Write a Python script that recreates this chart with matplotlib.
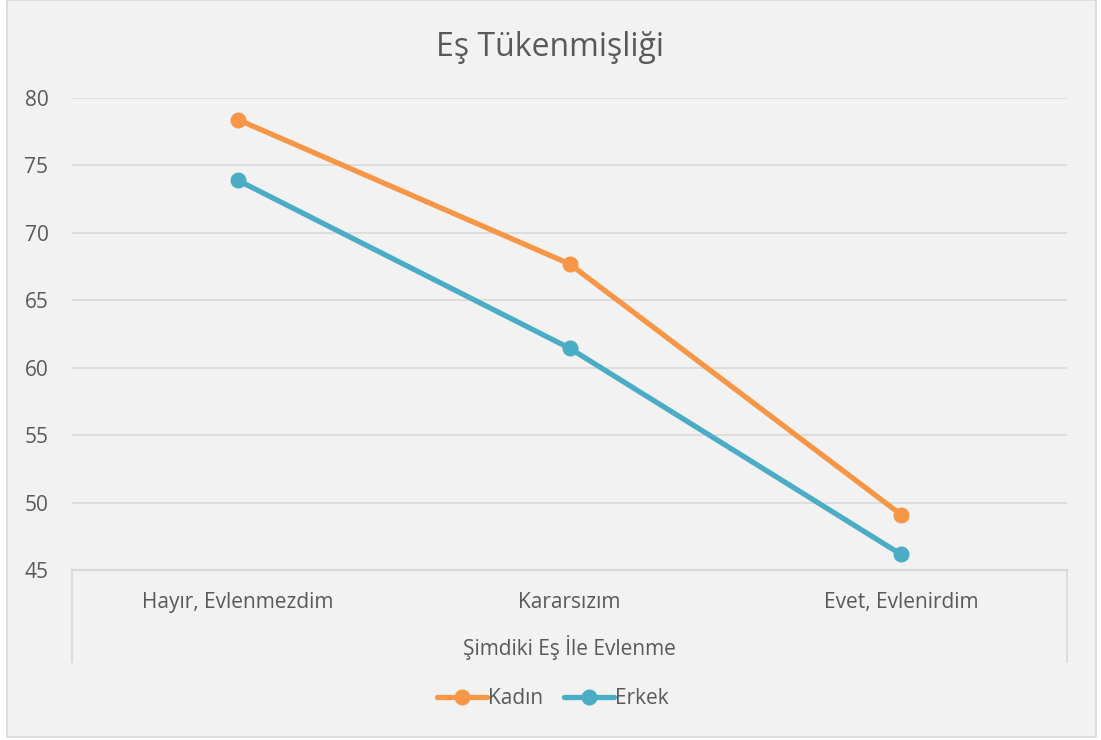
import matplotlib.pyplot as plt
from matplotlib.patches import Rectangle

categories = ["Hayır, Evlenmezdim", "Kararsızım", "Evet, Evlenirdim"]
kadin = [78.4, 67.7, 49.1]
erkek = [73.9, 61.45, 46.15]
yticks = [45, 50, 55, 60, 65, 70, 75, 80]

plt.rcParams['font.family'] = ['Open Sans', 'DejaVu Sans']
txt = '#595959'
grid = '#D9D9D9'
bg = '#F2F2F2'

W, H = 1101, 740
fig = plt.figure(figsize=(W / 100, H / 100), dpi=100, facecolor='white')
fig.patches.append(Rectangle((7 / W, 3 / H), 1089 / W, 1 - 3 / H))
fig.patches[-1].set(transform=fig.transFigure, facecolor=bg, edgecolor=grid, linewidth=1.2, zorder=-10)

ax = fig.add_axes([72 / W, (H - 570) / H, 995 / W, 472 / H])
ax.set_facecolor(bg)
x = range(len(categories))
ax.plot(x, kadin, color='#F79646', lw=3.8, marker='o', ms=10.5, label='Kadın',
        solid_capstyle='round', zorder=3)
ax.plot(x, erkek, color='#4BACC6', lw=3.8, marker='o', ms=10.5, label='Erkek',
        solid_capstyle='round', zorder=3)

ax.set_xlim(-0.5, 2.5)
ax.set_ylim(45, 80)
ax.set_yticks(yticks)
ax.set_xticks(list(x))
ax.set_xticklabels(categories)
ax.grid(axis='y', color=grid, lw=1.2)
ax.set_axisbelow(True)
for s in ['top', 'left', 'right']:
    ax.spines[s].set_visible(False)
ax.spines['bottom'].set_color(grid)
ax.spines['bottom'].set_linewidth(1.5)
ax.tick_params(axis='both', length=0, labelsize=15, labelcolor=txt)
ax.tick_params(axis='y', pad=17)
ax.tick_params(axis='x', pad=16)

# multi-level category box
depth = -(662 - 570) / 472
for xx in (0, 1):
    ax.plot([xx, xx], [0, depth], transform=ax.transAxes, color=grid, lw=1.2, clip_on=False)
ax.text(0.5, -(647 - 570) / 472, "Şimdiki Eş İle Evlenme", transform=ax.transAxes,
        ha='center', va='center', fontsize=15, color=txt)

fig.text(0.5, 1 - 48 / H, "Eş Tükenmişliği", ha='center', va='center', fontsize=23, color=txt)

fig.legend(loc='center', bbox_to_anchor=(553 / W, 1 - 699 / H), ncol=2, frameon=False,
           fontsize=15, labelcolor=txt, handlelength=2.4, handletextpad=0.05, columnspacing=1.0)

fig.savefig('out.png', dpi=100, facecolor=fig.get_facecolor())
